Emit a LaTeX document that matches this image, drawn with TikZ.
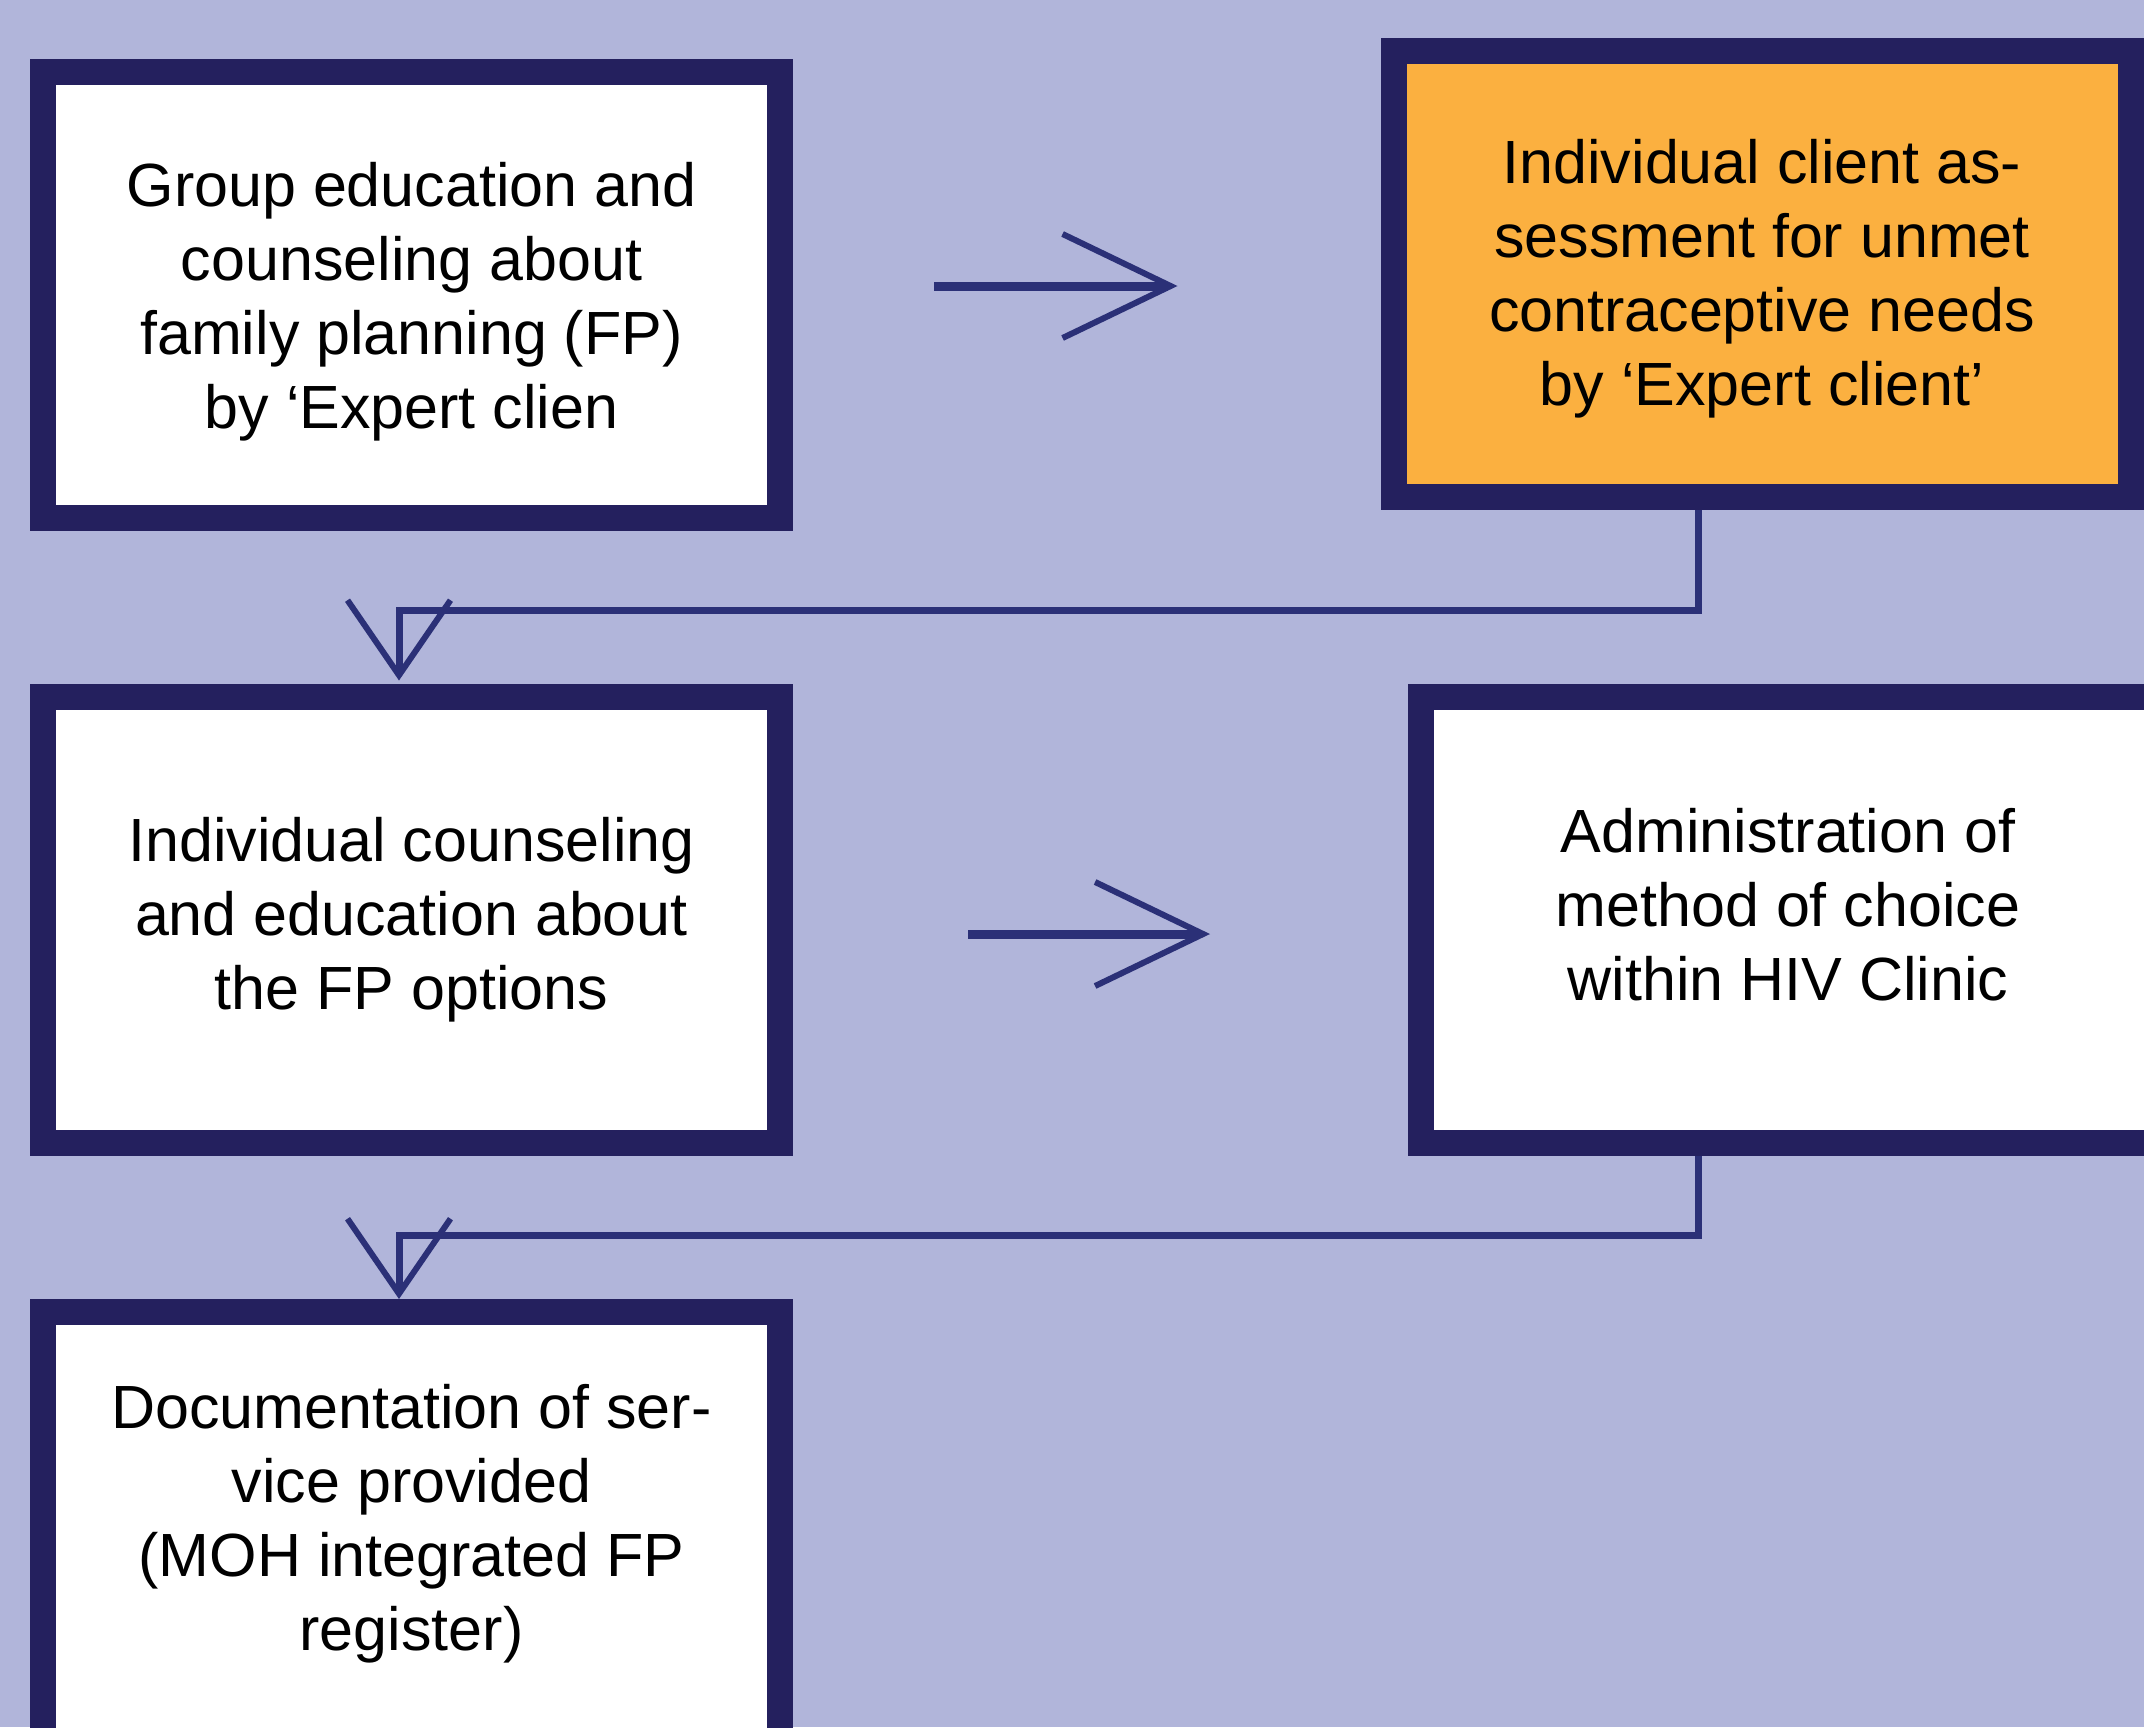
\documentclass[tikz,border=0pt]{standalone}
\usepackage{fontspec}
\setmainfont{Liberation Sans}
\usetikzlibrary{arrows.meta}
\definecolor{bg}{HTML}{B1B5DA}
\definecolor{navy}{HTML}{24205E}
\definecolor{lineblue}{HTML}{2B3077}
\definecolor{fporange}{HTML}{FBB040}
\begin{document}
\begin{tikzpicture}[x=1pt,y=1pt,
  box/.style={draw=navy, fill=white, line width=26pt, minimum width=737pt, minimum height=446pt,
    inner sep=0pt},
  boxtext/.style={inner sep=0pt, align=center, text=black, font=\fontsize{61}{74}\selectfont},
  rarrow/.style={draw=lineblue, line width=9pt,
    -{Straight Barb[length=108pt,width=104pt,line width=6pt]}},
  darrow/.style={draw=lineblue, line width=7pt,
    -{Straight Barb[length=75pt,width=103pt,line width=6pt]}}]
\fill[bg] (0,0) rectangle (2144,-1727);
\useasboundingbox (0,0) rectangle (2144,-1727);
\node[box] (box1) at (411.5,-295) {};
\node[boxtext] (t1) at (411.5,-302) {Group education and\\counseling about\\family planning (FP)\\by ‘Expert clien};
\node[box, fill=fporange] (box2) at (1762,-273.5) {};
\node[boxtext] (t2) at (1762,-279) {Individual client as-\\sessment for unmet\\contraceptive needs\\by ‘Expert client’};
\node[box] (box3) at (411.5,-919.5) {};
\node[boxtext] (t3) at (411.5,-919.5) {Individual counseling\\and education about\\the FP options};
\node[box] (box4) at (1789.5,-919.5) {};
\node[boxtext] (t4) at (1788,-905) {Administration of\\method of choice\\within HIV Clinic};
\node[box] (box5) at (411.5,-1535) {};
\node[boxtext] (t5) at (411.5,-1523.5) {Documentation of ser-\\vice provided\\(MOH integrated FP\\register)};
\draw[rarrow, shorten <=141pt, shorten >=203pt] ([yshift=9pt]box1.east) -- ([yshift=-12.5pt]box2.west);
\draw[rarrow, shorten <=175pt, shorten >=198pt] ([yshift=-14.5pt]box3.east) -- ([yshift=-14.5pt]box4.west);
\draw[darrow, shorten >=3pt] ([xshift=-64pt]box2.south) -- ++(0,-101) -| ([xshift=-12.5pt]box3.north);
\draw[darrow] ([xshift=-91.5pt]box4.south) -- ++(0,-80) -| ([xshift=-12.5pt]box5.north);
\end{tikzpicture}
\end{document}
